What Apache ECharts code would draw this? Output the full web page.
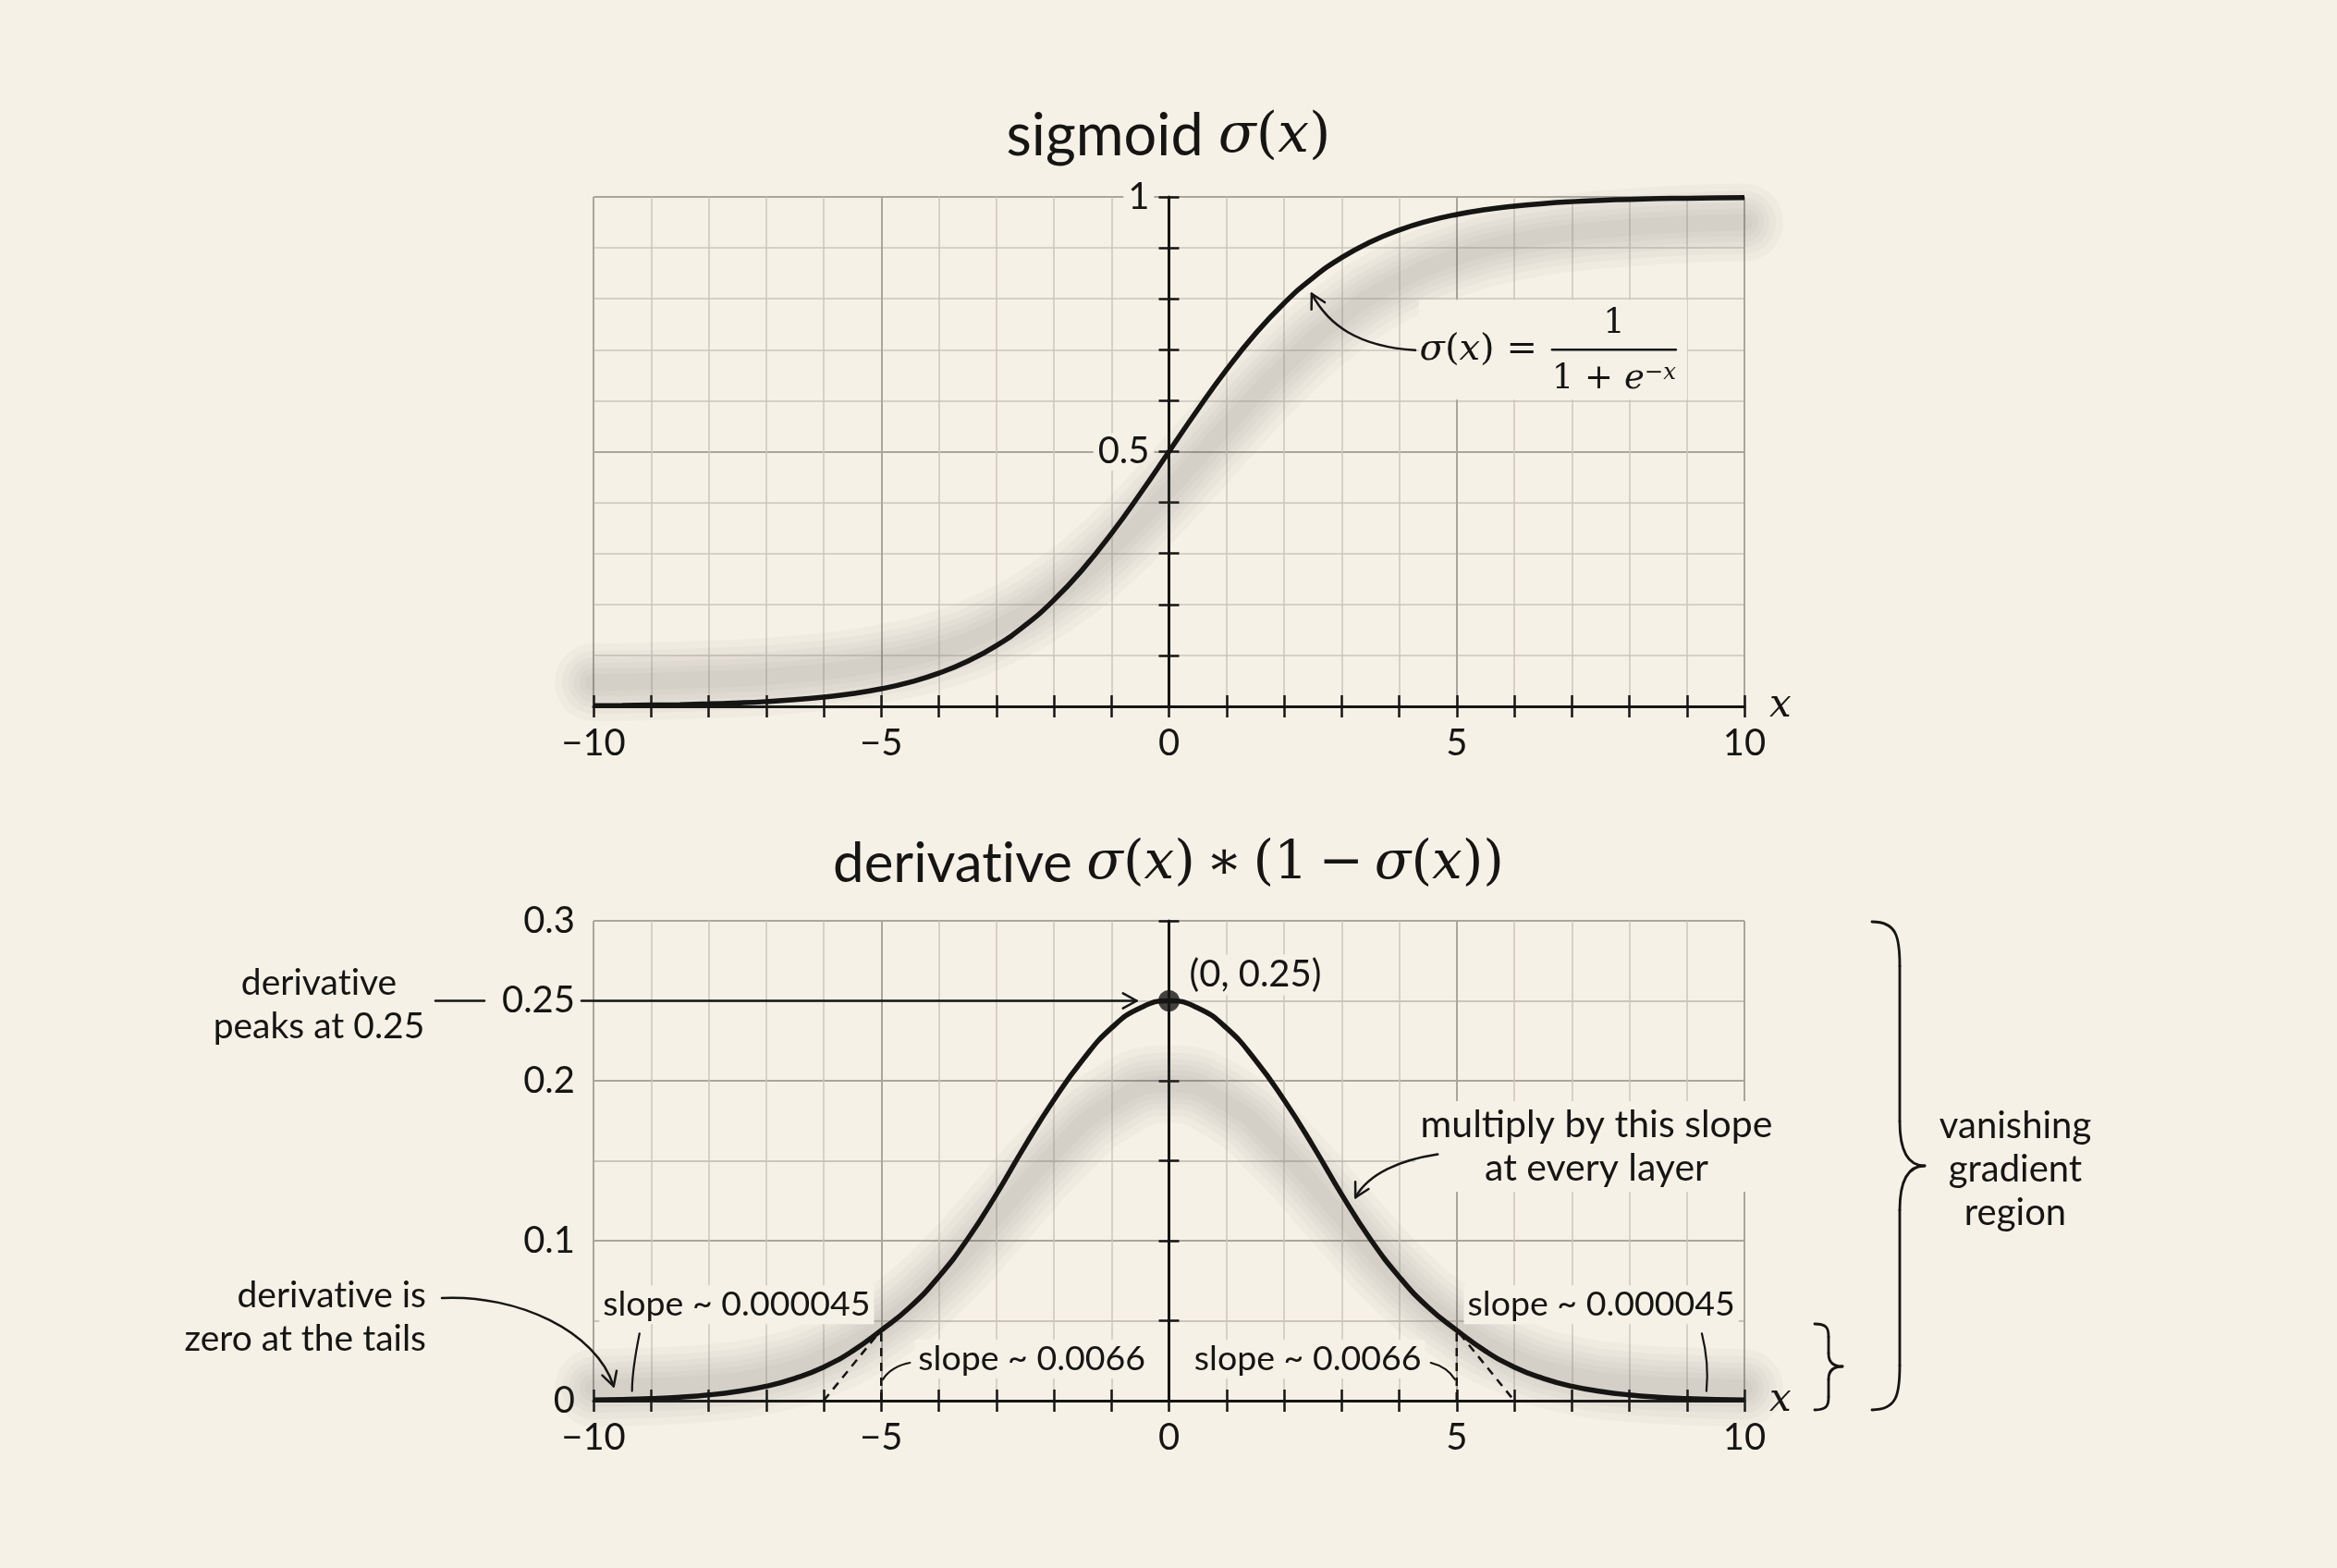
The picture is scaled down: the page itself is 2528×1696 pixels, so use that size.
<!DOCTYPE html>
<html>
<head>
<meta charset="utf-8">
<title>sigmoid and its derivative</title>
<script src="https://cdn.jsdelivr.net/npm/echarts@6/dist/echarts.min.js"></script>
<style>
  html, body { margin: 0; padding: 0; background: #f6f1e6; }
  #chart { width: 2528px; height: 1696px; }
</style>
</head>
<body>
<div id="chart"></div>
<script>
// sample points
var xs = [-10, -9.5, -9, -8.5, -8, -7.5, -7, -6.5, -6, -5.5, -5, -4.5, -4, -3.5, -3, -2.5, -2, -1.5, -1, -0.5,
  0, 0.5, 1, 1.5, 2, 2.5, 3, 3.5, 4, 4.5, 5, 5.5, 6, 6.5, 7, 7.5, 8, 8.5, 9, 9.5, 10];
var sigmoidVals = [0.0013, 0.0018, 0.0025, 0.0034, 0.0048, 0.0067, 0.0093, 0.0130, 0.0180, 0.0249, 0.0344,
  0.0474, 0.0650, 0.0884, 0.1192, 0.1589, 0.2086, 0.2689, 0.3392, 0.4174, 0.5000, 0.5826, 0.6608, 0.7311,
  0.7914, 0.8411, 0.8808, 0.9116, 0.9350, 0.9526, 0.9656, 0.9751, 0.9820, 0.9870, 0.9907, 0.9933, 0.9952,
  0.9966, 0.9975, 0.9982, 0.9987];
var derivVals = [0.0004, 0.0007, 0.0013, 0.0022, 0.0036, 0.0058, 0.0090, 0.0140, 0.0210, 0.0310, 0.0440,
  0.0585, 0.0775, 0.1010, 0.1290, 0.1595, 0.1880, 0.2130, 0.2330, 0.2455, 0.2500, 0.2455, 0.2330, 0.2130,
  0.1880, 0.1595, 0.1290, 0.1010, 0.0775, 0.0585, 0.0440, 0.0310, 0.0210, 0.0140, 0.0090, 0.0058, 0.0036,
  0.0022, 0.0013, 0.0007, 0.0004];

// the soft grey smudge drawn behind each curve
var shadeXs = [-10, -9, -8, -7, -6, -5, -4, -3, -2, -1, 0, 1, 2, 3, 4, 5, 6, 7, 8, 9, 10];
var sigmoidShade = [0.047, 0.049, 0.053, 0.058, 0.068, 0.084, 0.110, 0.154, 0.219, 0.310, 0.425,
  0.550, 0.668, 0.765, 0.835, 0.882, 0.912, 0.930, 0.940, 0.947, 0.950];
var derivShade = [0.008, 0.009, 0.011, 0.016, 0.027, 0.047, 0.076, 0.115, 0.155, 0.186, 0.198,
  0.186, 0.155, 0.115, 0.076, 0.047, 0.027, 0.016, 0.011, 0.009, 0.008];

var peakPoint = [[0, 0.25]];
var tangentLeft = [[-6, 0], [-5.05, 0.042]];
var dropLeft = [[-5, 0], [-5, 0.044]];
var tangentRight = [[5.05, 0.042], [6, 0]];
var dropRight = [[5, 0], [5, 0.044]];

// tick labels
var xTickLabels = [-10, -5, 0, 5, 10];
var yTopLabels = [0.5, 1];
var yBottomLabels = [0, 0.1, 0.2, 0.25, 0.3];

var INK = '#161514';
var PAPER = '#f6f1e6';
var MAJOR = '#aaa69d';
var MINOR = '#cac6bd';
var SANS = 'Lato, "Noto Sans", sans-serif';
var MATH = '"DejaVu Serif", serif';
var PLOT_W = 1245;
var ZWNJ = '\u200C'; // keeps Lato from joining "ti"

function zip(a, b) {
  return a.map(function (x, i) { return [x, b[i]]; });
}
function round2(v) { return Math.round(v * 100) / 100; }
function fmtX(v) {
  if (xTickLabels.indexOf(v) < 0) return '';
  return v < 0 ? '\u2212' + (-v) : String(v);
}

var tickStyle = { color: INK, width: 2.5 };

function xAxes(grid) {
  var base = { gridIndex: grid, type: 'value', min: -10, max: 10, interval: 5, position: 'bottom' };
  return [
    Object.assign({}, base, {
      name: 'x', nameLocation: 'end', nameGap: 24,
      nameTextStyle: { fontFamily: MATH, fontStyle: 'italic', fontSize: 42, color: INK },
      axisLine: { onZero: true, lineStyle: { color: INK, width: 3 } },
      axisTick: { show: true, length: 12, lineStyle: tickStyle },
      minorTick: { show: true, splitNumber: 5, length: 12, lineStyle: tickStyle },
      axisLabel: { fontFamily: SANS, fontSize: 40, color: INK, margin: 20, formatter: fmtX },
      splitLine: { show: true, lineStyle: { color: MAJOR, width: 2 } },
      minorSplitLine: { show: true, lineStyle: { color: MINOR, width: 1.5 } }
    }),
    Object.assign({}, base, {
      axisLine: { show: false, onZero: true },
      axisTick: { show: true, inside: true, length: 12, lineStyle: tickStyle },
      minorTick: { show: true, splitNumber: 5, length: 12, lineStyle: tickStyle },
      axisLabel: { show: false },
      splitLine: { show: false }
    })
  ];
}

var xAxis = xAxes(0).concat(xAxes(1));

var yAxis = [
  // 0: top chart, axis line through x = 0
  {
    gridIndex: 0, type: 'value', min: 0, max: 1, interval: 0.5, position: 'left',
    axisLine: { onZero: true, lineStyle: { color: INK, width: 3 } },
    axisTick: { show: true, length: 11, lineStyle: tickStyle },
    minorTick: { show: true, splitNumber: 5, length: 11, lineStyle: tickStyle },
    axisLabel: { show: false },
    splitLine: { show: true, lineStyle: { color: MAJOR, width: 2 } },
    minorSplitLine: { show: true, lineStyle: { color: MINOR, width: 1.5 } }
  },
  // 1: inner half of the crossing ticks
  {
    gridIndex: 0, type: 'value', min: 0, max: 1, interval: 0.5, position: 'left',
    axisLine: { show: false, onZero: true },
    axisTick: { show: true, inside: true, length: 11, lineStyle: tickStyle },
    minorTick: { show: true, splitNumber: 5, length: 11, lineStyle: tickStyle },
    axisLabel: { show: false }, splitLine: { show: false }
  },
  // 2: bottom chart, labels on the left edge
  {
    gridIndex: 1, type: 'value', min: 0, max: 0.3, interval: 0.05, position: 'left',
    axisLine: { show: false, onZero: false }, axisTick: { show: false },
    axisLabel: {
      fontFamily: SANS, fontSize: 40, color: INK, margin: 20,
      formatter: function (v) { return yBottomLabels.indexOf(round2(v)) >= 0 ? String(round2(v)) : ''; }
    },
    splitLine: { show: true, lineStyle: { color: [MAJOR, MINOR], width: 1.8 } }
  },
  // 3: bottom chart, axis line through x = 0
  {
    gridIndex: 1, type: 'value', min: 0, max: 0.3, interval: 0.05, position: 'left',
    axisLine: { onZero: true, lineStyle: { color: INK, width: 3 } },
    axisTick: { show: true, length: 11, lineStyle: tickStyle },
    axisLabel: { show: false }, splitLine: { show: false }
  },
  // 4: inner half of the crossing ticks
  {
    gridIndex: 1, type: 'value', min: 0, max: 0.3, interval: 0.05, position: 'left',
    axisLine: { show: false, onZero: true },
    axisTick: { show: true, inside: true, length: 11, lineStyle: tickStyle },
    axisLabel: { show: false }, splitLine: { show: false }
  },
  // 5: top chart labels, shifted in to sit beside x = 0
  {
    gridIndex: 0, type: 'value', min: 0, max: 1, interval: 0.5, position: 'left',
    offset: -PLOT_W / 2,
    axisLine: { show: false, onZero: false }, axisTick: { show: false },
    axisLabel: {
      showMinLabel: false, fontFamily: SANS, fontSize: 40, color: INK, margin: 16,
      backgroundColor: PAPER, padding: [0, 5],
      formatter: function (v) { return yTopLabels.indexOf(round2(v)) >= 0 ? String(round2(v)) : ''; }
    },
    splitLine: { show: false }
  }
];

// smudge: several wide translucent strokes stacked so the edges fade out
var shadeWidths = [84, 68, 54, 42, 30, 18];
function shade(xi, yi, vals) {
  return shadeWidths.map(function (w) {
    return {
      type: 'line', xAxisIndex: xi, yAxisIndex: yi, data: zip(shadeXs, vals), smooth: true,
      symbol: 'none', silent: true, clip: true, z: 1,
      lineStyle: { color: 'rgba(95,85,75,0.036)', width: w, cap: 'round', join: 'round',
        shadowBlur: 10, shadowColor: 'rgba(95,85,75,0.03)' }
    };
  });
}
function dashed(data) {
  return {
    type: 'line', xAxisIndex: 2, yAxisIndex: 2, data: data, symbol: 'none', z: 3,
    lineStyle: { color: INK, width: 2.5, type: [9, 7] }
  };
}

var option = {
  backgroundColor: PAPER,
  animation: false,
  grid: [
    { left: 642, top: 213, width: PLOT_W, height: 551, outerBoundsMode: 'none' },
    { left: 642, top: 996, width: PLOT_W, height: 519, outerBoundsMode: 'none' }
  ],
  xAxis: xAxis,
  yAxis: yAxis,
  series: [].concat(
    shade(0, 0, sigmoidShade),
    [{
      type: 'line', xAxisIndex: 0, yAxisIndex: 0, data: zip(xs, sigmoidVals), smooth: true,
      symbol: 'none', z: 4, lineStyle: { color: INK, width: 5.5 }
    }],
    shade(2, 2, derivShade),
    [{
      type: 'line', xAxisIndex: 2, yAxisIndex: 2, data: zip(xs, derivVals), smooth: true,
      symbol: 'none', z: 4, lineStyle: { color: INK, width: 5.5 }
    },
    dashed(tangentLeft), dashed(dropLeft), dashed(tangentRight), dashed(dropRight),
    {
      type: 'scatter', xAxisIndex: 2, yAxisIndex: 2, data: peakPoint, symbolSize: 23, z: 6,
      itemStyle: { color: INK }
    }]
  )
};

var chart = echarts.init(document.getElementById('chart'));
chart.setOption(option);

// ---------- annotations ----------
function P0(x, y) { return chart.convertToPixel({ xAxisIndex: 0, yAxisIndex: 0 }, [x, y]); }
function P1(x, y) { return chart.convertToPixel({ xAxisIndex: 2, yAxisIndex: 2 }, [x, y]); }

var strokeStyle = { stroke: INK, lineWidth: 2.5, fill: 'none', lineCap: 'round' };
var NOTE = 39;

function text(str, x, y, align, extra) {
  var st = {
    text: str, x: x, y: y, fontFamily: SANS, fontSize: NOTE, fill: INK,
    align: align || 'center', verticalAlign: 'middle',
    textAlign: align || 'center', textVerticalAlign: 'middle'
  };
  Object.assign(st, extra || {});
  return { type: 'text', z: 20, style: st };
}
function line(a, b, w) {
  return { type: 'line', z: 20, shape: { x1: a[0], y1: a[1], x2: b[0], y2: b[1] },
    style: Object.assign({}, strokeStyle, { lineWidth: w || 2.5 }) };
}
function bez(a, c1, c2, b, w) {
  return { type: 'bezierCurve', z: 20,
    shape: { x1: a[0], y1: a[1], cpx1: c1[0], cpy1: c1[1], cpx2: c2[0], cpy2: c2[1], x2: b[0], y2: b[1] },
    style: Object.assign({}, strokeStyle, { lineWidth: w || 2.5 }) };
}
function head(tip, from, len) {
  var a = Math.atan2(tip[1] - from[1], tip[0] - from[0]);
  var s = 0.5;
  return { type: 'polyline', z: 20, shape: { points: [
    [tip[0] - len * Math.cos(a - s), tip[1] - len * Math.sin(a - s)], tip,
    [tip[0] - len * Math.cos(a + s), tip[1] - len * Math.sin(a + s)]] },
    style: Object.assign({}, strokeStyle, { lineJoin: 'round' }) };
}
function brace(x0, xv, xp, yTop, yMid, yBot, r, w) {
  var k = (xp - xv);
  return [
    bez([x0, yTop], [x0 + (xv - x0) * 0.9, yTop], [xv, yTop + r * 0.35], [xv, yTop + r], w),
    line([xv, yTop + r], [xv, yMid - r], w),
    bez([xv, yMid - r], [xv, yMid - r * 0.35], [xv + k * 0.3, yMid], [xp, yMid], w),
    bez([xp, yMid], [xv + k * 0.3, yMid], [xv, yMid + r * 0.35], [xv, yMid + r], w),
    line([xv, yMid + r], [xv, yBot - r], w),
    bez([xv, yBot - r], [xv, yBot - r * 0.35], [x0 + (xv - x0) * 0.9, yBot], [x0, yBot], w)
  ];
}

var mathRich = function (size, sansSize) {
  return {
    t: { fontFamily: SANS, fontSize: sansSize || size, fill: INK },
    i: { fontFamily: MATH, fontStyle: 'italic', fontSize: size, fill: INK },
    r: { fontFamily: MATH, fontSize: size, fill: INK },
    s: { fontFamily: MATH, fontStyle: 'italic', fontSize: size * 0.66, fill: INK, verticalAlign: 'top' }
  };
};

var g = [];
var TS = '\u2009';
var DERIV = 'derivat' + ZWNJ + 'ive';

// titles
g.push(text('{t|sigmoid }{i|σ}{r|(}{i|x}{r|)}', 1264, 148, 'center', { rich: mathRich(60, 63) }));
g.push(text('{t|' + DERIV + ' }{i|σ}{r|(}{i|x}{r|)' + TS + '∗' + TS + '(1' + TS + '−' + TS + '}{i|σ}{r|(}{i|x}{r|))}',
  1264, 935, 'center', { rich: mathRich(58, 60) }));

// sigmoid formula
var eq = P0(6.4, 0.7);
g.push({ type: 'rect', z: 19, shape: { x: eq[0] - 128, y: eq[1] - 54, width: 290, height: 108 }, style: { fill: PAPER } });
g.push(text('{i|σ}{r|(}{i|x}{r|) =}', eq[0], eq[1], 'right', { rich: mathRich(40) }));
g.push(line([eq[0] + 16, eq[1]], [eq[0] + 150, eq[1]], 2.5));
g.push(text('{r|1}', eq[0] + 83, eq[1] - 28, 'center', { rich: mathRich(37) }));
g.push(text('{r|1 + }{i|e}{s|−x}', eq[0] + 83, eq[1] + 32, 'center', { rich: mathRich(37) }));
var fs = P0(4.28, 0.699), ft = P0(2.48, 0.81);
g.push(bez(fs, [fs[0] - 62, fs[1] - 4], [ft[0] + 18, ft[1] + 34], ft));
g.push(head(ft, [ft[0] + 18, ft[1] + 34], 17));

// peak arrow
var pk = P1(0, 0.25);
var arrowTip = P1(-0.56, 0.25);
g.push(line([629, pk[1]], arrowTip, 2.5));
g.push(head(arrowTip, [arrowTip[0] - 30, arrowTip[1]], 17));
g.push(line([471, pk[1]], [524, pk[1]], 2.5));
g.push(text(DERIV + '\npeaks at 0.25', 345, pk[1] + 4, 'center', { lineHeight: 47 }));
g.push(text('(0, 0.25)', pk[0] + 18, pk[1] - 28, 'left', { backgroundColor: PAPER, padding: [2, 4], fontSize: 40 }));

// tails
g.push(text(DERIV + ' is\nzero at the tails', 461, 1425, 'right', { lineHeight: 47 }));
var tt = P1(-9.65, 0.009);
g.push(bez([478, 1404], [560, 1400], [645, 1440], tt));
g.push(head(tt, [648, 1450], 17));

// slope labels
var SLOPE = 37.5;
var sl1 = P1(-9.9, 0.06), sr1 = P1(9.9, 0.06);
g.push(text('slope ~ 0.000045', sl1[0], sl1[1], 'left', { backgroundColor: PAPER, padding: [2, 4], fontSize: SLOPE }));
g.push(text('slope ~ 0.000045', sr1[0], sr1[1], 'right', { backgroundColor: PAPER, padding: [2, 4], fontSize: SLOPE }));
var a1 = P1(-9.2, 0.042), a2 = P1(-9.33, 0.006);
g.push(bez(a1, [a1[0] - 4, a1[1] + 20], [a2[0], a2[1] - 20], a2, 2.2));
var b1 = P1(9.26, 0.042), b2 = P1(9.34, 0.006);
g.push(bez(b1, [b1[0] + 5, b1[1] + 20], [b2[0] + 2, b2[1] - 20], b2, 2.2));

var sl2 = P1(-4.42, 0.026), sr2 = P1(4.45, 0.026);
g.push(text('slope ~ 0.0066', sl2[0], sl2[1], 'left', { backgroundColor: PAPER, padding: [2, 4], fontSize: SLOPE }));
g.push(text('slope ~ 0.0066', sr2[0], sr2[1], 'right', { backgroundColor: PAPER, padding: [2, 4], fontSize: SLOPE }));
var c1 = P1(-4.5, 0.0237), c2 = P1(-4.97, 0.0133);
g.push(bez(c1, [c1[0] - 12, c1[1] + 2], [c2[0] + 5, c2[1] - 9], c2, 2.2));
var d1 = P1(4.55, 0.0237), d2 = P1(4.97, 0.0133);
g.push(bez(d1, [d1[0] + 12, d1[1] + 3], [d2[0] - 5, d2[1] - 8], d2, 2.2));

// multiply note
var mp = P1(7.43, 0.159);
g.push(text('multiply by this slope\nat every layer', mp[0], mp[1], 'center', { lineHeight: 47, backgroundColor: PAPER, padding: [2, 6], fontSize: 41 }));
var ms = P1(4.67, 0.154), mt = P1(3.24, 0.127);
g.push(bez(ms, [ms[0] - 40, ms[1] + 6], [mt[0] + 14, mt[1] - 26], mt));
g.push(head(mt, [mt[0] + 14, mt[1] - 26], 17));

// braces
g = g.concat(brace(2025, 2055, 2082, 997, 1261, 1525, 48, 2.8));
g = g.concat(brace(1963, 1978, 1993, 1432, 1478, 1525, 14, 2.8));
g.push(text('vanishing\ngradient\nregion', 2180, 1265, 'center', { lineHeight: 47, fontSize: 40 }));

chart.setOption({ graphic: { elements: g } });
</script>
</body>
</html>
